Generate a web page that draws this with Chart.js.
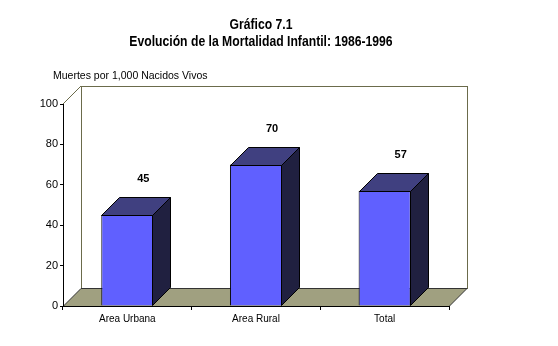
<!DOCTYPE html>
<html>
<head>
<meta charset="utf-8">
<title>Gráfico 7.1</title>
<script src="https://cdn.jsdelivr.net/npm/chart.js@4.4.1/dist/chart.umd.min.js"></script>
<style>
  html, body { margin: 0; padding: 0; background: #fff; }
  #wrap { width: 558px; height: 346px; }
</style>
</head>
<body>
<div id="wrap"><canvas id="myChart" width="558" height="346"></canvas></div>
<script>
const categories = ['Area Urbana', 'Area Rural', 'Total'];
const mortality = [45, 70, 57];
const yTicks = [0, 20, 40, 60, 80, 100];

const titleLines = ['Gráfico 7.1', 'Evolución de la Mortalidad Infantil: 1986-1996'];
const unitsLabel = 'Muertes por 1,000 Nacidos Vivos';

// depth of the 3D box, in px
const DEPTH = 18;

const frontColor = '#6060ff';
const topColor = '#404080';
const sideColor = '#202040';
const floorColor = '#a0a080';
const wallLine = '#6b6b4b';

// back wall + floor, before the axes are drawn
const walls = {
    id: 'walls',
    beforeDraw(chart) {
        const ctx = chart.ctx;
        const a = chart.chartArea;
        ctx.save();
        ctx.lineWidth = 1;

        // back wall
        ctx.fillStyle = '#fff';
        ctx.strokeStyle = wallLine;
        ctx.fillRect(a.left + DEPTH, a.top - DEPTH, a.right - a.left, a.bottom - a.top);
        ctx.strokeRect(a.left + DEPTH + 0.5, a.top - DEPTH + 0.5, a.right - a.left, a.bottom - a.top);

        // top edge of the left wall
        ctx.beginPath();
        ctx.moveTo(a.left, a.top);
        ctx.lineTo(a.left + DEPTH, a.top - DEPTH);
        ctx.stroke();

        // floor
        ctx.beginPath();
        ctx.moveTo(a.left, a.bottom + 0.5);
        ctx.lineTo(a.right, a.bottom + 0.5);
        ctx.lineTo(a.right + DEPTH, a.bottom - DEPTH + 0.5);
        ctx.lineTo(a.left + DEPTH, a.bottom - DEPTH + 0.5);
        ctx.closePath();
        ctx.fillStyle = floorColor;
        ctx.fill();
        ctx.strokeStyle = '#333';
        ctx.stroke();
        ctx.restore();
    }
};

// tops and sides of the bars, plus value labels
const bars3d = {
    id: 'bars3d',
    afterDatasetsDraw(chart) {
        const ctx = chart.ctx;
        const meta = chart.getDatasetMeta(0);
        ctx.save();
        ctx.lineWidth = 1;
        ctx.strokeStyle = '#000';
        meta.data.forEach((bar, i) => {
            const l = Math.round(bar.x - bar.width / 2) + 0.5;
            const r = Math.round(bar.x + bar.width / 2) - 0.5;
            const t = Math.round(bar.y) + 0.5;
            const b = Math.round(bar.base) - 0.5;

            ctx.beginPath();
            ctx.moveTo(l, t);
            ctx.lineTo(r, t);
            ctx.lineTo(r + DEPTH, t - DEPTH);
            ctx.lineTo(l + DEPTH, t - DEPTH);
            ctx.closePath();
            ctx.fillStyle = topColor;
            ctx.fill();
            ctx.stroke();

            ctx.beginPath();
            ctx.moveTo(r, t);
            ctx.lineTo(r + DEPTH, t - DEPTH);
            ctx.lineTo(r + DEPTH, b - DEPTH);
            ctx.lineTo(r, b);
            ctx.closePath();
            ctx.fillStyle = sideColor;
            ctx.fill();
            ctx.stroke();

            ctx.fillStyle = '#000';
            ctx.font = 'bold 11px "Liberation Sans", Arial, sans-serif';
            ctx.textAlign = 'center';
            ctx.textBaseline = 'middle';
            ctx.fillText(String(mortality[i]), bar.x + 16, t - DEPTH - 19);
        });
        ctx.restore();
    }
};

// narrow bold text: squeeze a normal bold face horizontally
function narrowText(ctx, text, cx, cy, squeeze) {
    ctx.save();
    ctx.translate(cx, cy);
    ctx.scale(squeeze, 1);
    ctx.fillText(text, 0, 0);
    ctx.restore();
}

// titles and the units note above the value axis
const labels = {
    id: 'labels',
    afterDraw(chart) {
        const ctx = chart.ctx;
        ctx.save();
        ctx.fillStyle = '#000';
        ctx.textBaseline = 'middle';
        ctx.textAlign = 'center';
        ctx.font = 'bold 14px "Liberation Sans", Arial, sans-serif';
        narrowText(ctx, titleLines[0], 261, 25, 0.87);
        narrowText(ctx, titleLines[1], 261, 42, 0.87);
        ctx.textAlign = 'left';
        ctx.font = '10.5px "Liberation Sans", Arial, sans-serif';
        ctx.fillText(unitsLabel, 53, 76);
        ctx.restore();
    }
};

const ctx = document.getElementById('myChart');
new Chart(ctx, {
    type: 'bar',
    data: {
        labels: categories,
        datasets: [{
            data: mortality,
            backgroundColor: frontColor,
            borderColor: '#000',
            borderWidth: 1,
            barPercentage: 0.405,
            categoryPercentage: 1
        }]
    },
    options: {
        responsive: false,
        animation: false,
        events: [],
        layout: {
            padding: { top: 104, left: 33, right: 109, bottom: 20 }
        },
        plugins: {
            legend: { display: false },
            title: { display: false },
            tooltip: { enabled: false }
        },
        scales: {
            x: {
                afterFit(scale) { scale.height = 20; },
                grid: {
                    offset: true,
                    drawOnChartArea: false,
                    tickLength: 4,
                    color: '#000'
                },
                border: { color: '#000' },
                ticks: {
                    color: '#000',
                    padding: 3,
                    font: { family: '"Liberation Sans", Arial, sans-serif', size: 10 }
                }
            },
            y: {
                min: 0,
                max: 100,
                afterFit(scale) { scale.width = 30; },
                afterBuildTicks(scale) {
                    scale.ticks = yTicks.map(v => ({ value: v }));
                },
                grid: {
                    drawOnChartArea: false,
                    tickLength: 3,
                    color: '#000'
                },
                border: { color: '#000' },
                ticks: {
                    color: '#000',
                    padding: 2,
                    font: { family: '"Liberation Sans", Arial, sans-serif', size: 11 }
                }
            }
        }
    },
    plugins: [walls, bars3d, labels]
});
</script>
</body>
</html>
